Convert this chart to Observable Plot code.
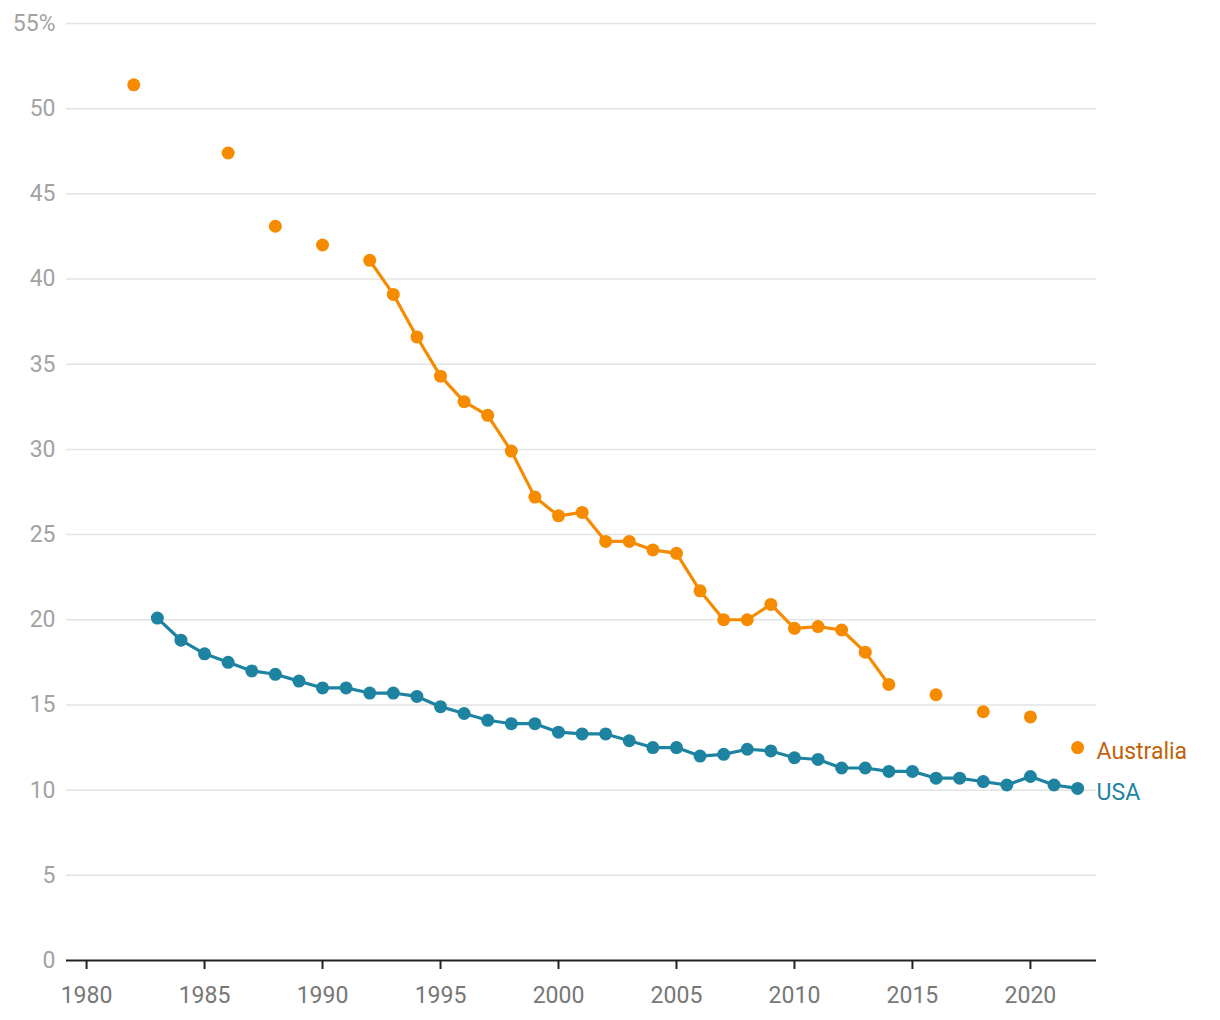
<!DOCTYPE html>
<html>
<head>
<meta charset="utf-8">
<script src="https://cdn.jsdelivr.net/npm/d3@7"></script>
<script src="https://cdn.jsdelivr.net/npm/@observablehq/plot@0.6"></script>
<style>
  html, body { margin: 0; padding: 0; background: #fff; }
  #chart { font-family: Roboto, "Noto Sans", sans-serif; }
</style>
</head>
<body>
<div id="chart"></div>
<script>
const ausYears  = [1982, 1986, 1988, 1990, 1992, 1993, 1994, 1995, 1996, 1997, 1998, 1999, 2000, 2001, 2002, 2003, 2004, 2005, 2006, 2007, 2008, 2009, 2010, 2011, 2012, 2013, 2014, 2016, 2018, 2020, 2022];
const ausValues = [51.4, 47.4, 43.1, 42.0, 41.1, 39.1, 36.6, 34.3, 32.8, 32.0, 29.9, 27.2, 26.1, 26.3, 24.6, 24.6, 24.1, 23.9, 21.7, 20.0, 20.0, 20.9, 19.5, 19.6, 19.4, 18.1, 16.2, 15.6, 14.6, 14.3, 12.5];
const usaYears  = [1983, 1984, 1985, 1986, 1987, 1988, 1989, 1990, 1991, 1992, 1993, 1994, 1995, 1996, 1997, 1998, 1999, 2000, 2001, 2002, 2003, 2004, 2005, 2006, 2007, 2008, 2009, 2010, 2011, 2012, 2013, 2014, 2015, 2016, 2017, 2018, 2019, 2020, 2021, 2022];
const usaValues = [20.1, 18.8, 18.0, 17.5, 17.0, 16.8, 16.4, 16.0, 16.0, 15.7, 15.7, 15.5, 14.9, 14.5, 14.1, 13.9, 13.9, 13.4, 13.3, 13.3, 12.9, 12.5, 12.5, 12.0, 12.1, 12.4, 12.3, 11.9, 11.8, 11.3, 11.3, 11.1, 11.1, 10.7, 10.7, 10.5, 10.3, 10.8, 10.3, 10.1];
const seriesNames = ["Australia", "USA"];
const xTicks = [1980, 1985, 1990, 1995, 2000, 2005, 2010, 2015, 2020];
const yTicks = [0, 5, 10, 15, 20, 25, 30, 35, 40, 45, 50, 55];

const colors = {Australia: "#f68b00", USA: "#1e83a1"};
const labelColors = {Australia: "#c2620a", USA: "#1e83a1"};

const aus = ausYears.map((y, i) => ({year: y, value: ausValues[i], series: "Australia"}));
const usa = usaYears.map((y, i) => ({year: y, value: usaValues[i], series: "USA"}));

// full year range so that missing years break the line
function withGaps(rows) {
  const m = new Map(rows.map(d => [d.year, d.value]));
  const y0 = d3.min(rows, d => d.year), y1 = d3.max(rows, d => d.year);
  return d3.range(y0, y1 + 1).map(y => ({year: y, value: m.has(y) ? m.get(y) : NaN}));
}
const ausLine = withGaps(aus);
const usaLine = withGaps(usa);
const lastPoints = [aus[aus.length - 1], usa[usa.length - 1]];

const fs = 23;
const chart = Plot.plot({
  width: 1220,
  height: 1020,
  marginLeft: 66,
  marginRight: 124,
  marginTop: 23,
  marginBottom: 60,
  style: {fontFamily: "Roboto, sans-serif", fontSize: fs + "px", background: "#fff"},
  x: {domain: [1979.15, 2022.8]},
  y: {domain: [0, 55]},
  marks: [
    Plot.gridY(yTicks.filter(d => d > 0), {stroke: "#e3e3e3", strokeOpacity: 1, strokeWidth: 1.5}),
    Plot.axisY(yTicks, {tickSize: 0, tickPadding: 11, fill: "#a3a3a3", fontSize: fs,
      tickFormat: d => d === 55 ? "55%" : String(d), label: null}),
    Plot.ruleY([0], {stroke: "#222", strokeWidth: 2}),
    Plot.axisX(xTicks, {tickSize: 9, tickPadding: 17, stroke: "#222", strokeWidth: 2, fill: "#777", fontSize: fs,
      tickFormat: d => String(d), label: null}),
    Plot.line(ausLine, {x: "year", y: "value", stroke: colors.Australia, strokeWidth: 3.2}),
    Plot.line(usaLine, {x: "year", y: "value", stroke: colors.USA, strokeWidth: 3.2}),
    Plot.dot(aus, {x: "year", y: "value", r: 6.5, fill: colors.Australia, stroke: null}),
    Plot.dot(usa, {x: "year", y: "value", r: 6.5, fill: colors.USA, stroke: null}),
    Plot.text(lastPoints, {x: "year", y: "value", text: "series", dx: 19, dy: 4, textAnchor: "start",
      fill: d => labelColors[d.series], fontSize: fs})
  ]
});
document.getElementById("chart").appendChild(chart);
</script>
</body>
</html>
